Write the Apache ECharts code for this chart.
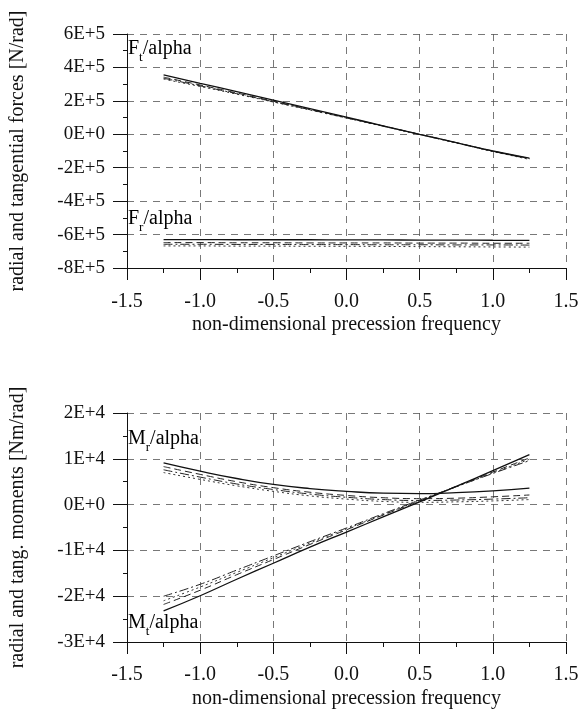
<!DOCTYPE html>
<html>
<head>
<meta charset="utf-8">
<script src="https://cdn.jsdelivr.net/npm/echarts@6/dist/echarts.min.js"></script>
<style>
html,body{margin:0;padding:0;background:#fff;}
#main{width:586px;height:710px;}
</style>
</head>
<body>
<div id="main"></div>
<script>
// ---- data ----
const xValues = [-1.25, -1.0, -0.75, -0.5, -0.25, 0.0, 0.25, 0.5, 0.75, 1.0, 1.25];

// Top chart: forces [N/rad]
const ftSolid   = [3.56e5, 3.05e5, 2.55e5, 2.04e5, 1.53e5, 1.02e5, 0.51e5, 0.00e5, -0.50e5, -1.00e5, -1.42e5];
const ftDashed  = [3.42e5, 2.95e5, 2.47e5, 1.98e5, 1.49e5, 1.00e5, 0.50e5, 0.00e5, -0.50e5, -1.00e5, -1.45e5];
const ftDashDot = [3.35e5, 2.90e5, 2.43e5, 1.95e5, 1.47e5, 0.98e5, 0.49e5, -0.01e5, -0.51e5, -1.02e5, -1.47e5];
const ftDotted  = [3.30e5, 2.86e5, 2.40e5, 1.93e5, 1.45e5, 0.97e5, 0.48e5, -0.02e5, -0.52e5, -1.03e5, -1.50e5];

const frSolid   = [-6.30e5, -6.30e5, -6.31e5, -6.31e5, -6.31e5, -6.32e5, -6.32e5, -6.33e5, -6.33e5, -6.34e5, -6.35e5];
const frDashed  = [-6.48e5, -6.48e5, -6.49e5, -6.49e5, -6.50e5, -6.50e5, -6.50e5, -6.51e5, -6.51e5, -6.52e5, -6.52e5];
const frDashDot = [-6.58e5, -6.58e5, -6.59e5, -6.59e5, -6.60e5, -6.60e5, -6.61e5, -6.61e5, -6.62e5, -6.62e5, -6.63e5];
const frDotted  = [-6.68e5, -6.68e5, -6.69e5, -6.69e5, -6.70e5, -6.70e5, -6.71e5, -6.72e5, -6.73e5, -6.74e5, -6.75e5];

// Bottom chart: moments [Nm/rad]
const mrSolid   = [0.91e4, 0.73e4, 0.57e4, 0.44e4, 0.35e4, 0.29e4, 0.25e4, 0.24e4, 0.26e4, 0.30e4, 0.36e4];
const mrDashed  = [0.83e4, 0.66e4, 0.50e4, 0.37e4, 0.27e4, 0.20e4, 0.15e4, 0.13e4, 0.14e4, 0.17e4, 0.21e4];
const mrDashDot = [0.76e4, 0.60e4, 0.45e4, 0.33e4, 0.23e4, 0.16e4, 0.11e4, 0.09e4, 0.10e4, 0.12e4, 0.15e4];
const mrDotted  = [0.70e4, 0.55e4, 0.41e4, 0.29e4, 0.19e4, 0.12e4, 0.07e4, 0.05e4, 0.06e4, 0.08e4, 0.11e4];

const mtSolid   = [-2.32e4, -1.99e4, -1.63e4, -1.28e4, -0.93e4, -0.60e4, -0.27e4, 0.06e4, 0.40e4, 0.74e4, 1.09e4];
const mtDashed  = [-2.18e4, -1.87e4, -1.53e4, -1.20e4, -0.87e4, -0.55e4, -0.23e4, 0.08e4, 0.40e4, 0.71e4, 1.02e4];
const mtDashDot = [-2.00e4, -1.74e4, -1.43e4, -1.12e4, -0.81e4, -0.51e4, -0.20e4, 0.10e4, 0.39e4, 0.68e4, 0.96e4];
const mtDotted  = [-2.10e4, -1.80e4, -1.48e4, -1.16e4, -0.84e4, -0.53e4, -0.22e4, 0.09e4, 0.39e4, 0.69e4, 0.99e4];

// tick labels
const xTickValues = [-1.5, -1.0, -0.5, 0.0, 0.5, 1.0, 1.5];
const xTickLabels = ['-1.5', '-1.0', '-0.5', '0.0', '0.5', '1.0', '1.5'];
const topYTickValues = [-8e5, -6e5, -4e5, -2e5, 0, 2e5, 4e5, 6e5];
const topYTickLabels = ['-8E+5', '-6E+5', '-4E+5', '-2E+5', '0E+0', '2E+5', '4E+5', '6E+5'];
const botYTickValues = [-3e4, -2e4, -1e4, 0, 1e4, 2e4];
const botYTickLabels = ['-3E+4', '-2E+4', '-1E+4', '0E+0', '1E+4', '2E+4'];

const xName = 'non-dimensional precession frequency';
const topYName = 'radial and tangential forces [N/rad]';
const botYName = 'radial and tang. moments [Nm/rad]';

// ---- chart ----
const FONT = '"Liberation Serif", "DejaVu Serif", serif';
function lookup(vals, labels) {
  return function (v) {
    for (let i = 0; i < vals.length; i++) if (Math.abs(vals[i] - v) < 1e-6 * Math.max(1, Math.abs(v))) return labels[i];
    return '';
  };
}
function gridLine() {
  return { show: true, showMinLine: true, showMaxLine: true, lineStyle: { color: '#555', width: 0.8, type: [7, 6] } };
}

function xAxis(gridIndex, margin, nameGap) {
  return {
    type: 'value', gridIndex, min: -1.5, max: 1.5, interval: 0.5,
    name: xName, nameLocation: 'middle', nameGap,
    nameTextStyle: { fontFamily: FONT, fontSize: 20, color: '#111' },
    axisLine: { show: true, onZero: false, lineStyle: { color: '#111', width: 1 } },
    axisTick: { show: true, length: 12, lineStyle: { color: '#111' } },
    minorTick: { show: true, splitNumber: 2, length: 5, lineStyle: { color: '#111' } },
    axisLabel: { fontFamily: FONT, fontSize: 20, color: '#111', margin, formatter: lookup(xTickValues, xTickLabels) },
    splitLine: gridLine()
  };
}
function yAxis(gridIndex, min, max, interval, vals, labels, name) {
  return {
    type: 'value', gridIndex, min, max, interval,
    name, nameLocation: 'middle', nameGap: 99, nameRotate: 90,
    nameTextStyle: { fontFamily: FONT, fontSize: 20, color: '#111' },
    axisLine: { show: true, onZero: false, lineStyle: { color: '#111', width: 1 } },
    axisTick: { show: true, length: 14, lineStyle: { color: '#111' } },
    minorTick: { show: true, splitNumber: 2, length: 4, lineStyle: { color: '#111' } },
    axisLabel: { fontFamily: FONT, fontSize: 19, color: '#111', margin: 22, formatter: lookup(vals, labels) },
    splitLine: gridLine()
  };
}
const styles = [
  { type: 'solid', width: 1.3, color: '#111' },
  { type: [7, 4], width: 1, color: '#222' },
  { type: [9, 3, 2, 3], width: 1, color: '#222' },
  { type: [2, 3], width: 1, color: '#333' }
];
function mk(arr, idx, xi, yi) {
  return {
    type: 'line', xAxisIndex: xi, yAxisIndex: yi, smooth: true, symbol: 'none',
    lineStyle: styles[idx], data: xValues.map((x, i) => [x, arr[i]]), silent: true
  };
}

const chart = echarts.init(document.getElementById('main'), null, { renderer: 'canvas' });
const rich = {
  b: { fontFamily: FONT, fontSize: 20, color: '#111' },
  s: { fontFamily: FONT, fontSize: 13, color: '#111', verticalAlign: 'bottom', padding: [0, 0, -5, 0] }
};
function lbl(x, y, main, sub) {
  return { type: 'text', left: x, top: y, style: { text: '{b|' + main + '}{s|' + sub + '}{b|/alpha}', rich } };
}
chart.setOption({
  animation: false,
  backgroundColor: '#fff',
  grid: [
    { left: 124, width: 442, top: 34, height: 234 },
    { left: 124, width: 442, top: 413, height: 230 }
  ],
  xAxis: [xAxis(0, 24, 47), xAxis(1, 23, 47)],
  yAxis: [
    yAxis(0, -8e5, 6e5, 2e5, topYTickValues, topYTickLabels, topYName),
    yAxis(1, -3e4, 2e4, 1e4, botYTickValues, botYTickLabels, botYName)
  ],
  graphic: [
    lbl(128, 39, 'F', 't'),
    lbl(128, 209, 'F', 'r'),
    lbl(128, 429, 'M', 'r'),
    lbl(128, 613, 'M', 't')
  ],
  series: [
    mk(ftDotted, 3, 0, 0), mk(ftDashDot, 2, 0, 0), mk(ftDashed, 1, 0, 0), mk(ftSolid, 0, 0, 0),
    mk(frDotted, 3, 0, 0), mk(frDashDot, 2, 0, 0), mk(frDashed, 1, 0, 0), mk(frSolid, 0, 0, 0),
    mk(mrDotted, 3, 1, 1), mk(mrDashDot, 2, 1, 1), mk(mrDashed, 1, 1, 1), mk(mrSolid, 0, 1, 1),
    mk(mtDotted, 3, 1, 1), mk(mtDashDot, 2, 1, 1), mk(mtDashed, 1, 1, 1), mk(mtSolid, 0, 1, 1)
  ]
});
</script>
</body>
</html>
